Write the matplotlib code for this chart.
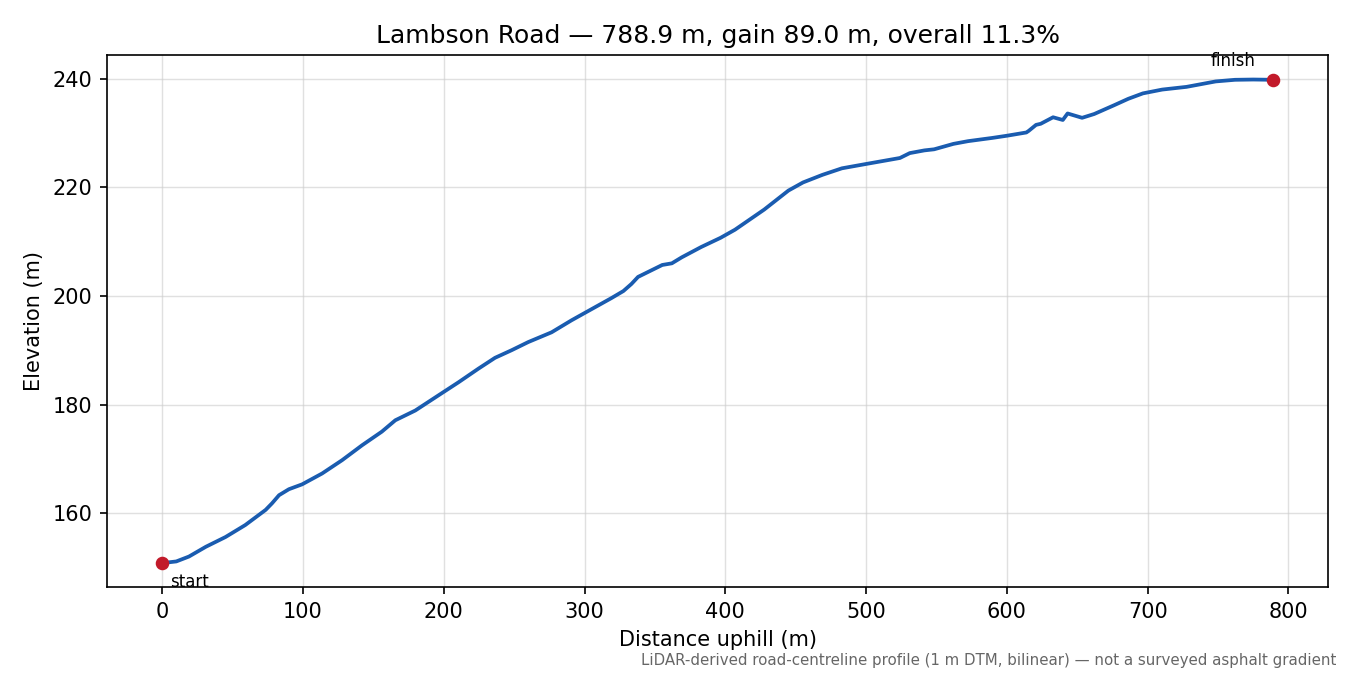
#!/usr/bin/env python
import matplotlib

matplotlib.use("Agg")
import matplotlib.pyplot as plt

colors = {
    "line": "#1a5cb0",
    "marker": "#c21a2a",
    "note": "#666666",
}

# profile (distance uphill m, elevation m)
distance = [
    0, 10, 19, 31, 45, 59, 73.5, 78, 83, 90, 99.4, 113.6, 127.8, 142, 156,
    165.6, 179.8, 196.3, 210.5, 224.6, 236.4, 248.2, 260, 276.6, 290.7, 299,
    319.1, 327.6, 333.3, 338, 346.6, 355.2, 362, 369, 382.8, 396.6, 406.9,
    427.6, 444.8, 455.2, 469, 482.8, 500, 524, 531, 541.4, 548.3, 562, 572.4,
    589.7, 600, 613.8, 615.5, 620.7, 624, 632.8, 639.7, 643.1, 653.4, 662,
    676, 686.2, 696.6, 710.3, 727.6, 748.3, 762, 775, 788.9,
]
elevation = [
    150.8, 151.1, 152.0, 153.8, 155.6, 157.8, 160.6, 161.8, 163.3, 164.4,
    165.3, 167.3, 169.75, 172.5, 175.0, 177.1, 178.9, 181.7, 184.1, 186.6,
    188.6, 190.0, 191.5, 193.3, 195.5, 196.7, 199.6, 200.9, 202.2, 203.5,
    204.6, 205.7, 206.0, 207.1, 209.0, 210.7, 212.2, 215.9, 219.4, 220.9,
    222.3, 223.5, 224.3, 225.4, 226.3, 226.8, 227.0, 228.0, 228.5, 229.1,
    229.5, 230.1, 230.4, 231.5, 231.7, 232.9, 232.4, 233.6, 232.8, 233.5,
    235.1, 236.3, 237.3, 238.0, 238.5, 239.5, 239.8, 239.85, 239.8,
]

title = "Lambson Road \u2014 788.9 m, gain 89.0 m, overall 11.3%"
footnote = ("LiDAR-derived road-centreline profile (1 m DTM, bilinear) "
            "\u2014 not a surveyed asphalt gradient")


def plot_profile():
    fig, ax = plt.subplots(1, 1, figsize=(9, 4.5), dpi=150)
    fig.subplots_adjust(left=0.079, right=0.984, top=0.918, bottom=0.130)

    ax.plot(distance, elevation, lw=1.8, color=colors["line"], zorder=2)
    ax.plot([distance[0], distance[-1]], [elevation[0], elevation[-1]],
            "o", color=colors["marker"], ms=5.5, zorder=3)

    ax.annotate("start", (distance[0], elevation[0]), xytext=(4, -9),
                textcoords="offset points", ha="left", va="center", fontsize=8)
    ax.annotate("finish", (distance[-1], elevation[-1]), xytext=(-19, 9),
                textcoords="offset points", ha="center", va="center",
                fontsize=8)

    ax.grid(True, color="#cccccc", alpha=0.6, lw=0.7)
    ax.set_axisbelow(True)
    ax.set_xlabel("Distance uphill (m)")
    ax.set_ylabel("Elevation (m)")
    ax.set_title(title)

    fig.text(0.99, 0.022, footnote, ha="right", va="center", fontsize=7.2,
             color=colors["note"])

    plt.savefig("out.png", dpi=150)


if __name__ == "__main__":
    plot_profile()
